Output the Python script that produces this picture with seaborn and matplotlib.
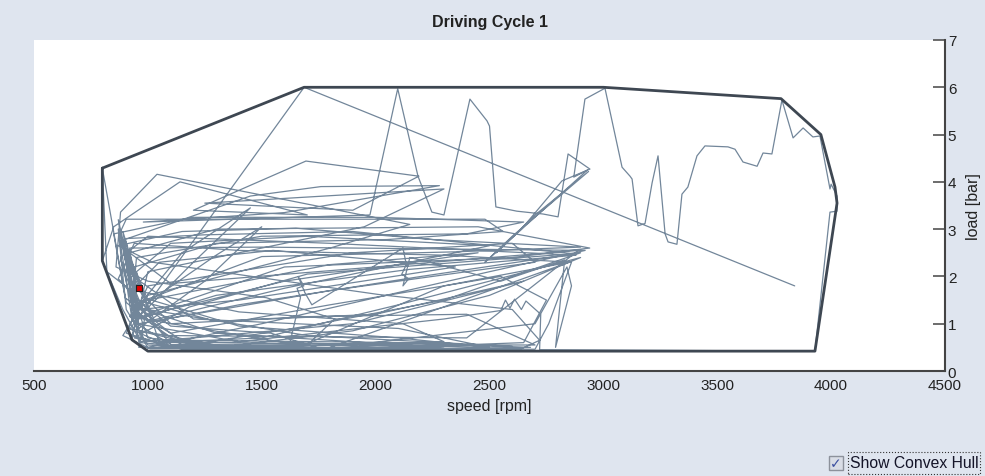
import numpy as np
import pandas as pd
import matplotlib
matplotlib.use("Agg")
import matplotlib.pyplot as plt
import seaborn as sns
from matplotlib.patches import Rectangle

# ---------------- data ----------------
TITLE = "Driving Cycle 1"
X_LABEL = "speed [rpm]"
Y_LABEL = "load [bar]"
CHECKBOX_LABEL = "Show Convex Hull"
x_ticks = [500, 1000, 1500, 2000, 2500, 3000, 3500, 4000, 4500]
y_ticks = [0, 1, 2, 3, 4, 5, 6, 7]

# operating-point trace (speed [rpm], load [bar]) in time order
urban_1 = [(961, 1.75), (905, 2.45), (935, 1.05), (1080, 0.62), (1420, 0.50), (1760, 0.47),
           (1540, 0.80), (1100, 0.95), (930, 1.60), (880, 2.95), (905, 3.21), (2480, 3.21),
           (2560, 2.95), (2050, 2.78), (1300, 2.70), (940, 2.20), (960, 0.85), (1250, 0.52),
           (2050, 0.48), (2640, 0.47), (2720, 0.65), (2600, 1.30), (2010, 1.62), (1020, 2.30),
           (870, 2.65), (1150, 2.95), (1650, 3.02), (2250, 2.78), (2900, 2.62), (2350, 2.52),
           (1500, 2.42), (960, 1.45), (915, 0.90), (1330, 0.52), (1700, 0.55), (1820, 1.10),
           (1520, 1.55), (1000, 1.90), (860, 2.20), (880, 3.36), (1040, 4.16), (2150, 3.10),
           (1800, 2.60), (1000, 1.60), (890, 0.75), (1010, 0.47), (1850, 0.50), (2300, 0.62),
           (2120, 1.00), (1400, 1.25), (950, 1.70), (900, 2.80), (1250, 2.88), (1900, 2.95),
           (2870, 2.48), (2500, 2.35), (1700, 2.05), (1180, 1.35), (940, 0.70), (1150, 0.48),
           (1620, 0.52)]

urban_2 = [(1670, 1.55), (1655, 1.75), (1685, 1.80), (1660, 2.00), (1690, 1.65), (1720, 1.40),
           (2120, 2.60), (2135, 2.25), (2115, 2.05), (2145, 1.95), (2120, 1.80), (2150, 2.40),
           (2240, 2.30), (2550, 1.90), (2830, 2.35), (2790, 0.50), (2860, 1.80), (2840, 2.20),
           (2700, 1.00), (1900, 0.55), (1200, 0.50), (970, 0.60), (890, 1.30), (800, 2.33),
           (850, 3.05), (1141, 4.00), (1700, 3.30), (1200, 3.40), (1694, 4.44), (2190, 4.12),
           (1900, 3.40), (1250, 3.55), (2300, 3.85), (1950, 3.05), (1000, 2.10), (930, 0.67),
           (1000, 0.43), (2000, 0.46), (2680, 0.50), (2200, 0.58), (1100, 0.56), (900, 1.80),
           (820, 2.10), (800, 4.29), (905, 1.45), (1080, 0.75), (2400, 0.70), (2890, 2.55),
           (2000, 2.20), (1100, 1.85), (920, 2.50), (1300, 3.00), (2450, 3.05), (2940, 2.60),
           (2600, 2.40), (1600, 2.20), (990, 1.20), (960, 0.50), (1500, 0.46), (2450, 0.55),
           (2100, 0.90), (1200, 1.10), (935, 2.00), (880, 2.75), (1450, 3.70), (1760, 3.90),
           (2280, 3.92), (1600, 3.35), (980, 3.15), (1975, 3.30)]

rural_highway = [(2097, 5.97), (2186, 4.12), (2247, 3.36), (2300, 3.30), (2414, 5.75),
                 (2489, 5.29), (2500, 5.18), (2528, 3.47), (2620, 3.38), (2735, 3.32),
                 (2801, 3.26), (2845, 4.59), (2941, 4.27), (2818, 4.02), (2640, 3.00),
                 (2530, 2.50), (2700, 3.30), (2935, 4.22), (2600, 2.85), (2480, 2.30),
                 (2930, 4.25), (2870, 4.10), (2919, 5.75),
                 (3007, 5.98), (3082, 4.31), (3117, 4.12), (3126, 4.06), (3152, 3.07),
                 (3183, 3.12), (3214, 3.98), (3240, 4.55), (3271, 2.90), (3284, 2.73),
                 (3323, 2.68), (3345, 3.74), (3371, 3.89), (3411, 4.55), (3446, 4.76),
                 (3547, 4.74), (3578, 4.69), (3613, 4.42), (3675, 4.33), (3701, 4.61),
                 (3740, 4.59), (3784, 5.73), (3833, 4.93), (3877, 5.14), (3920, 4.95),
                 (3951, 4.97), (3995, 3.85), (4000, 3.95), (4026, 3.70), (4026, 3.38),
                 (3995, 3.36), (3929, 0.42), (2720, 0.45)]

urban_3 = [(2725, 1.20), (2660, 1.48), (2640, 1.30), (2610, 1.52), (2590, 1.33), (2570, 1.50),
           (2550, 1.28), (2300, 1.10), (1400, 0.62), (950, 1.00), (880, 2.40), (1000, 2.85),
           (1800, 2.70), (2880, 2.45), (2150, 2.15), (1300, 1.60), (960, 1.10), (920, 2.60),
           (1500, 2.62), (2920, 2.55), (2500, 2.10), (1500, 1.00), (1000, 0.50), (1800, 0.45),
           (2650, 0.60), (2750, 1.50), (2550, 2.00), (1800, 1.40), (1100, 0.80), (900, 1.55),
           (850, 2.90), (1200, 3.25), (2000, 3.25), (2650, 3.15), (2400, 2.90), (1500, 2.85),
           (950, 2.40), (930, 1.30), (1150, 0.65), (2150, 0.60), (2600, 0.52), (1700, 0.75),
           (1000, 1.30), (870, 1.95), (940, 2.70), (1400, 2.55), (2300, 2.45), (2860, 2.30),
           (2760, 1.00), (2700, 0.46), (1300, 0.48)]

urban_4 = [(1000, 0.55), (905, 1.30), (870, 3.00), (930, 1.10), (1600, 1.90), (2450, 2.50),
           (1800, 2.25), (1000, 1.50), (880, 2.85), (960, 0.90), (1250, 1.90), (1500, 3.05),
           (1300, 2.45), (940, 1.25), (1150, 0.55), (1700, 0.50), (2300, 0.48), (1900, 0.62),
           (1300, 0.80), (950, 1.35), (900, 2.55), (1030, 1.05), (1400, 1.40), (2200, 2.00),
           (2900, 2.50), (2300, 1.50), (1700, 0.95), (1250, 0.60), (1000, 0.48), (940, 1.05),
           (1200, 2.30), (1450, 3.45), (1150, 2.50), (920, 1.15), (1600, 0.60), (2500, 0.50),
           (2100, 0.70), (1400, 0.95), (980, 1.55), (890, 2.95), (960, 1.00), (1800, 1.70),
           (2700, 2.30), (2600, 2.70), (1900, 2.50), (1000, 1.80), (905, 0.80), (1100, 0.52),
           (2000, 0.55), (2700, 0.55), (2400, 1.20), (1700, 1.15), (1100, 1.00), (930, 1.85),
           (880, 2.35), (1000, 0.70), (1350, 0.52), (1900, 0.85), (2500, 1.60), (2900, 2.40),
           (2100, 1.40), (1500, 0.70), (1050, 0.60), (950, 2.10), (1100, 2.70), (1700, 2.85),
           (2500, 2.65), (1600, 1.75), (1000, 1.05), (910, 2.10), (870, 3.20), (950, 1.50),
           (1300, 1.05), (2000, 1.20), (2650, 1.90), (1900, 1.00), (1200, 0.70), (960, 0.62),
           (925, 1.70), (1050, 2.30), (1550, 2.55), (2350, 2.20), (1400, 1.50), (960, 1.30),
           (930, 0.75), (1150, 0.46), (1600, 0.45), (2600, 0.46), (1800, 0.50), (2850, 2.30),
           (2300, 1.80), (1700, 0.58), (1050, 0.62)]

final_run = [(921, 0.89), (1686, 6.00), (3840, 1.80)]

# convex hull of the trace
hull = [(800, 4.29), (1686, 6.00), (3000, 6.00), (3780, 5.76), (3955, 5.00), (4017, 3.89),
        (4026, 3.55), (3929, 0.42), (1000, 0.42), (930, 0.66), (800, 2.33), (800, 4.29)]

# current operating point
current_speed = [961]
current_load = [1.75]

# ---------------- plot ----------------
sns.set_theme(style="white")
plt.rcParams['font.family'] = ['Liberation Sans', 'DejaVu Sans']

W, H = 985, 477
fig = plt.figure(figsize=(W / 100, H / 100), dpi=100)
fig.patch.set_facecolor('#dfe5ef')

left, right, top, bottom = 34, 945, 41, 372
ax = fig.add_axes([left / W, 1 - bottom / H, (right - left) / W, (bottom - top) / H])
ax.set_facecolor('white')

trace = pd.DataFrame(urban_1 + urban_2 + rural_highway + urban_3 + urban_4 + final_run,
                     columns=['speed', 'load'])
sns.lineplot(data=trace, x='speed', y='load', sort=False, estimator=None,
             color='#72869a', lw=0.9, ax=ax, zorder=2)

hull_df = pd.DataFrame(hull, columns=['speed', 'load'])
sns.lineplot(data=hull_df, x='speed', y='load', sort=False, estimator=None,
             color='#3e4752', lw=2.0, ax=ax, zorder=3)

sns.scatterplot(x=current_speed, y=current_load, marker='s', s=22, color='#e00000',
                edgecolor='#202020', linewidth=0.8, ax=ax, zorder=5)

ax.set_xlim(x_ticks[0], x_ticks[-1])
ax.set_ylim(y_ticks[0], y_ticks[-1])
ax.set_xticks(x_ticks)
ax.set_yticks(y_ticks)

for s in ['left', 'top']:
    ax.spines[s].set_visible(False)
for s in ['bottom', 'right']:
    ax.spines[s].set_color('#444444')
    ax.spines[s].set_linewidth(1.5)

ax.yaxis.tick_right()
ax.yaxis.set_label_position('right')
ax.tick_params(axis='x', direction='in', length=10, width=1.1, colors='#444444',
               labelcolor='#222222', labelsize=11, pad=5)
ax.tick_params(axis='y', direction='in', length=9, width=1.1, colors='#444444',
               labelcolor='#222222', labelsize=11, pad=2, right=True, left=False)

ax.set_xlabel(X_LABEL, fontsize=11.5, color='#222222', labelpad=4)
ax.set_ylabel(Y_LABEL, fontsize=11.5, color='#222222', labelpad=7)

fig.text(((left + right) / 2) / W, 1 - 22 / H, TITLE, ha='center', va='center',
         fontsize=11.5, fontweight='bold', color='#222222')

# checkbox widget
fig.patches.append(Rectangle((829 / W, 1 - 471 / H), 14 / W, 14 / H, transform=fig.transFigure,
                             facecolor='#d9dde6', edgecolor='#8c919b', lw=1.0))
fig.text(836 / W, 1 - 464 / H, '\u2713', ha='center', va='center', fontsize=10,
         fontweight='bold', color='#3b4fa0', family='DejaVu Sans')
fig.text(850 / W, 1 - 464 / H, CHECKBOX_LABEL, ha='left', va='center', fontsize=11.3,
         color='#141428')
fig.patches.append(Rectangle((848 / W, 1 - 475 / H), 132 / W, 22 / H, transform=fig.transFigure,
                             facecolor='none', edgecolor='#333333', lw=0.8, linestyle=':'))

fig.savefig('out.png', dpi=100, facecolor=fig.get_facecolor())
